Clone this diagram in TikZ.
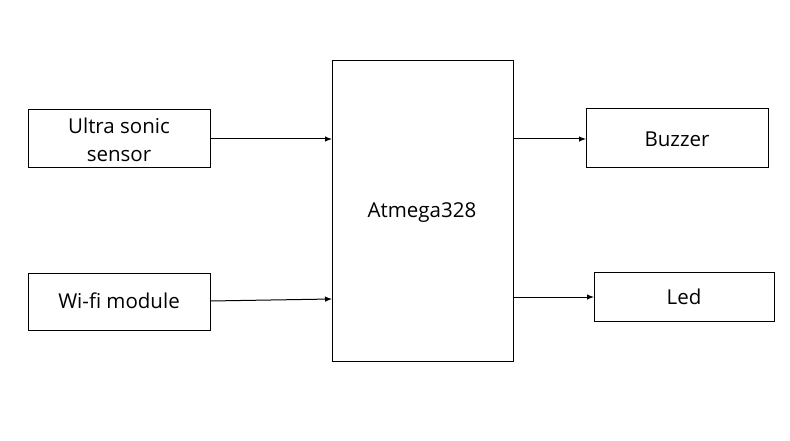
\documentclass[tikz,border=0pt]{standalone}
\usepackage{fontspec}
\setmainfont{Open Sans}
\usetikzlibrary{arrows.meta}
\begin{document}
\begin{tikzpicture}[x=1pt,y=-1pt,
  blk/.style={draw=black,line width=1pt,fill=white},
  conn/.style={draw=black,line width=1pt,-{Latex[length=7pt,width=5.5pt]}},
  lbl/.style={font=\fontsize{20.5}{28}\selectfont,align=center,inner sep=0pt}]
\useasboundingbox (0,0) rectangle (790,441);
\fill[white] (0,0) rectangle (790,441);
\draw[blk] (28,110) rectangle (210,168);
\draw[blk] (28,273) rectangle (210,330);
\draw[blk] (332,61) rectangle (513,361);
\draw[blk] (586,109) rectangle (768,168);
\draw[blk] (594,272) rectangle (774,321);
\node[lbl] (us) at (119,140) {Ultra sonic\\sensor};
\node[lbl] (wf) at (119,301) {Wi-fi module};
\node[lbl] (at) at (422,213) {Atmega328};
\node[lbl] (bz) at (677,139) {Buzzer};
\node[lbl] (led) at (684,297) {Led};
\coordinate (a1) at (210,139);
\coordinate (a1e) at (332,139);
\coordinate (a2) at (210,301);
\coordinate (a2e) at (332,299);
\coordinate (b1) at (513,139);
\coordinate (b1e) at (586,139);
\coordinate (b2) at (513,297);
\coordinate (b2e) at (594,297);
\draw[conn] (a1) -- (a1e);
\draw[conn] (a2) -- (a2e);
\draw[conn] (b1) -- (b1e);
\draw[conn] (b2) -- (b2e);
\end{tikzpicture}
\end{document}
